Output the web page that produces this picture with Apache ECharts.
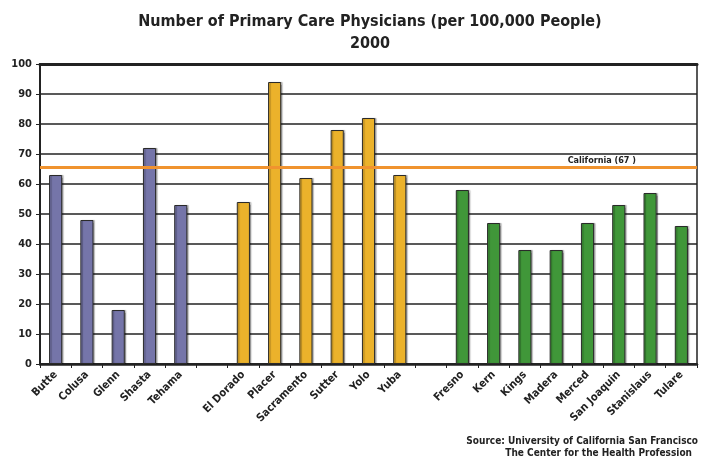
<!DOCTYPE html>
<html>
<head>
<meta charset="utf-8">
<script src="https://cdn.jsdelivr.net/npm/echarts@6/dist/echarts.min.js"></script>
<style>
  html, body { margin: 0; padding: 0; background: #fff; }
  #chart { width: 703px; height: 458px; }
</style>
</head>
<body>
<div id="chart"></div>
<script>
// counties, with empty slots between regions
const categories = [
  "Butte", "Colusa", "Glenn", "Shasta", "Tehama", "",
  "El Dorado", "Placer", "Sacramento", "Sutter", "Yolo", "Yuba", "",
  "Fresno", "Kern", "Kings", "Madera", "Merced", "San Joaquin", "Stanislaus", "Tulare"
];
const physicians = [
  63, 48, 18, 72, 53, null,
  54, 94, 62, 78, 82, 63, null,
  58, 47, 38, 38, 47, 53, 57, 46
];
// 0 = north, 1 = sacramento area, 2 = central valley
const regions = [
  0, 0, 0, 0, 0, null,
  1, 1, 1, 1, 1, 1, null,
  2, 2, 2, 2, 2, 2, 2, 2
];
const californiaLine = 65.7;
const californiaLabel = "California (67 )";
const yTicks = [0, 10, 20, 30, 40, 50, 60, 70, 80, 90, 100];

const regionColors = ["#7575a9", "#ebb22b", "#409739"];
const font = "DejaVu Sans Condensed";

const chart = echarts.init(document.getElementById("chart"));

const barData = physicians.map((v, i) => {
  if (v === null) return "-";
  return { value: v, itemStyle: { color: regionColors[regions[i]] } };
});

const option = {
  animation: false,
  textStyle: { fontFamily: font },
  title: [
    {
      text: "Number of Primary Care Physicians (per 100,000 People)\n2000",
      left: 370,
      textAlign: "center",
      top: 11,
      padding: 0,
      textStyle: { fontFamily: font, fontSize: 16, fontWeight: "bold", color: "#222", lineHeight: 22 },
    },
    {
      text: "Source: University of California San Francisco",
      right: 5,
      top: 436,
      padding: 0,
      textStyle: { fontFamily: font, fontSize: 10, fontWeight: "bold", color: "#222" },
    },
    {
      text: "The Center for the Health Profession",
      right: 11,
      top: 448,
      padding: 0,
      textStyle: { fontFamily: font, fontSize: 10, fontWeight: "bold", color: "#222" },
    },
  ],
  grid: {
    left: 40,
    right: 6,
    top: 64,
    bottom: 94,
    show: true,
    borderColor: "#222",
    borderWidth: 1.5,
  },
  xAxis: [
    {
      type: "category",
      data: categories,
      axisLine: { lineStyle: { color: "#222", width: 2.5 } },
      axisTick: { show: true, interval: 0, length: 4, lineStyle: { color: "#222" } },
      axisLabel: {
        interval: 0,
        rotate: 45,
        margin: 9,
        fontFamily: font,
        fontSize: 11,
        fontWeight: "bold",
        color: "#222",
      },
    },
    {
      type: "category",
      data: categories,
      position: "top",
      axisLine: { lineStyle: { color: "#222", width: 3 } },
      axisTick: { show: false },
      axisLabel: { show: false },
    },
  ],
  yAxis: {
    type: "value",
    min: yTicks[0],
    max: yTicks[yTicks.length - 1],
    interval: 10,
    axisLine: { show: true, lineStyle: { color: "#222", width: 2 } },
    axisTick: { show: true, length: 4, lineStyle: { color: "#222" } },
    axisLabel: { fontFamily: font, fontSize: 11, fontWeight: "bold", color: "#222", margin: 8 },
    splitLine: { lineStyle: { color: "#222", width: 1.5 } },
  },
  series: [
    {
      type: "bar",
      data: barData,
      barWidth: "42%",
      itemStyle: {
        borderColor: "#2a2a2a",
        borderWidth: 1,
        shadowColor: "rgba(0,0,0,0.3)",
        shadowOffsetX: 1.5,
        shadowOffsetY: 0,
        shadowBlur: 1,
      },
      markLine: {
        silent: true,
        symbol: "none",
        lineStyle: { color: "#f0932f", width: 3, type: "solid" },
        label: {
          position: "insideEndTop",
          formatter: californiaLabel,
          fontFamily: font,
          fontSize: 9,
          fontWeight: "bold",
          color: "#222",
          distance: [61, 2],
        },
        data: [{ yAxis: californiaLine }],
      },
    },
  ],
};

chart.setOption(option);
</script>
</body>
</html>
